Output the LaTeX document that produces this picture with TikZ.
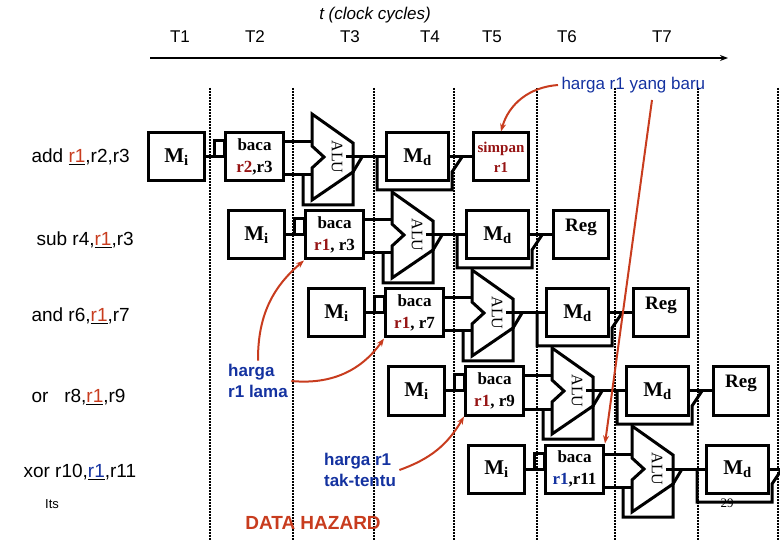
\documentclass[tikz,border=0pt]{standalone}
\usepackage{fontspec}
\setmainfont{Liberation Serif}
\newfontfamily\arial{Liberation Sans}
\usetikzlibrary{calc,arrows.meta}
\definecolor{dred}{RGB}{150,20,20}
\definecolor{ored}{RGB}{200,60,30}
\definecolor{dblue}{RGB}{20,50,160}
\begin{document}
\begin{tikzpicture}[x=1pt,y=-1pt,
  box/.style={draw,line width=3pt,minimum height=48pt,inner sep=1pt,anchor=west,font=\bfseries\fontsize{19}{19}\selectfont,align=center},
  wire/.style={line width=3pt},
  dotl/.style={line width=2.6pt,dash pattern=on 1.6pt off 1.4pt},
  lab/.style={font=\arial\fontsize{19}{21}\selectfont},
  note/.style={font=\arial\bfseries\fontsize{17}{21}\selectfont,text=dblue,align=left},
  rarr/.style={draw=ored,line width=2pt,-{Stealth[length=8pt]}}]
\useasboundingbox (0,0) rectangle (780,540);
% header
\node[font=\arial\itshape\fontsize{17}{18}\selectfont] (tt) at (375,15) {t (clock cycles)};
\foreach \t/\x in {T1/180,T2/255,T3/350,T4/430,T5/492,T6/567,T7/662}
  \node[font=\arial\fontsize{17}{18}\selectfont] (h\t) at (\x,37) {\t};
\coordinate (ax0) at (150,58); \coordinate (ax1) at (728,58);
\draw[line width=1.5pt,-{Stealth[length=8pt]}] (ax0) -- (ax1);
% dotted lines
\foreach \x in {210,293,374,454,537,615,698,778}
  \draw[dotl] (\x,88) -- (\x,540);
% left labels
\node[lab,anchor=west] (i1) at (28,157) {add \underline{\textcolor{ored}{r1}},r2,r3};
\node[lab,anchor=west] (i2) at (33,240) {sub r4,\underline{\textcolor{ored}{r1}},r3};
\node[lab,anchor=west] (i3) at (28,316) {and r6,\underline{\textcolor{ored}{r1}},r7};
\node[lab,anchor=west] (i4) at (28,397) {or\ \ \ r8,\underline{\textcolor{ored}{r1}},r9};
\node[lab,anchor=west] (i5) at (20,472) {xor r10,\underline{\textcolor{dblue}{r1}},r11};
\node[font=\arial\fontsize{13}{14}\selectfont] (its) at (52,504) {Its};
% pipeline rows
\foreach \k/\rt in {0/{\textcolor{dred}{r2},r3},1/{\textcolor{dred}{r1}, r3},2/{\textcolor{dred}{r1}, r7},3/{\textcolor{dred}{r1}, r9},4/{\textcolor{dblue}{r1},r11}}{
  \pgfmathsetmacro{\X}{147+80*\k}
  \pgfmathsetmacro{\c}{157+78*\k}
  \node[box,minimum width=56pt,font=\bfseries\fontsize{21}{21}\selectfont] (mi\k) at (\X,\c) {M\textsubscript{i}};
  \node[box,minimum width=58pt,font=\bfseries\fontsize{17}{22}\selectfont] (rd\k) at (\X+77,\c) {baca\\\rt};
  \draw[wire] (\X+165,\c-43) -- (\X+206,\c-14) -- (\X+206,\c+15) -- (\X+165,\c+43) -- (\X+165,\c+11) -- (\X+177,\c) -- (\X+165,\c-11) -- cycle;
  \node[rotate=-90,font=\fontsize{16}{16}\selectfont] (alu\k) at (\X+190,\c) {ALU};
  \node[box,minimum width=62pt,font=\bfseries\fontsize{21}{21}\selectfont] (md\k) at (\X+238,\c) {M\textsubscript{d}};
  % connectors
  \draw[wire] (mi\k.east) -- (rd\k.west);
  \draw[wire] ($(rd\k.west)+(-10,-16)$) rectangle (rd\k.west);
  \draw[wire] ($(rd\k.east)+(0,-15)$) -- (\X+165,\c-15);
  \draw[wire] ($(rd\k.east)+(0,18)$) -- (\X+165,\c+18);
  \draw[wire] ($(rd\k.east)+(18,18)$) -- ++(0,30) -- (\X+206,\c+48) -- (\X+206,\c+15) -- (\X+215,\c);
  \draw[wire] (alu\k.north) -- (md\k.west);
  \draw[wire] ($(md\k.west)+(-8,0)$) -- ++(0,33) -- ($(md\k.east)+(2,33)$) -- ($(md\k.east)+(2,15)$) -- ($(md\k.east)+(12,0)$);
}
\foreach \k in {0,1,2,3}{
  \pgfmathsetmacro{\X}{147+80*\k}
  \pgfmathsetmacro{\c}{157+78*\k}
  \ifnum\k=0
    \node[box,minimum width=55pt,font=\bfseries\fontsize{15}{20}\selectfont,text=dred] (wb\k) at (\X+325,\c) {simpan\\r1};
  \else
    \node[box,minimum width=55pt,text depth=20pt] (wb\k) at (\X+325,\c) {Reg};
  \fi
  \draw[wire] (md\k.east) -- (wb\k.west);
}
\coordinate (edge4) at (780,469);
\draw[wire] (md4.east) -- (edge4);
\node[font=\fontsize{13}{14}\selectfont] (pg) at (727,503) {29};
% notes
\node[note] (lama) at (258,381) {harga\\r1 lama};
\node[note] (tak) at (360,470) {harga r1\\tak-tentu};
\node[font=\arial\bfseries\fontsize{19}{20}\selectfont,text=ored] (dh) at (313,523) {DATA HAZARD};
\node[font=\arial\fontsize{17}{18}\selectfont,text=dblue,anchor=west] (baru) at (558,85) {harga r1 yang baru};
\coordinate (top2) at (652,100);
% red arrows
\draw[rarr] (baru.west) to[bend right=35] (wb0.north);
\draw[rarr] (top2) -- (rd4.north east);
\draw[rarr] (lama.north) to[bend left=25] (rd1.south west);
\draw[rarr] (lama.east) to[bend right=30] (rd2.south west);
\draw[rarr] (tak.east) to[bend right=20] (rd3.south west);
\end{tikzpicture}
\end{document}
